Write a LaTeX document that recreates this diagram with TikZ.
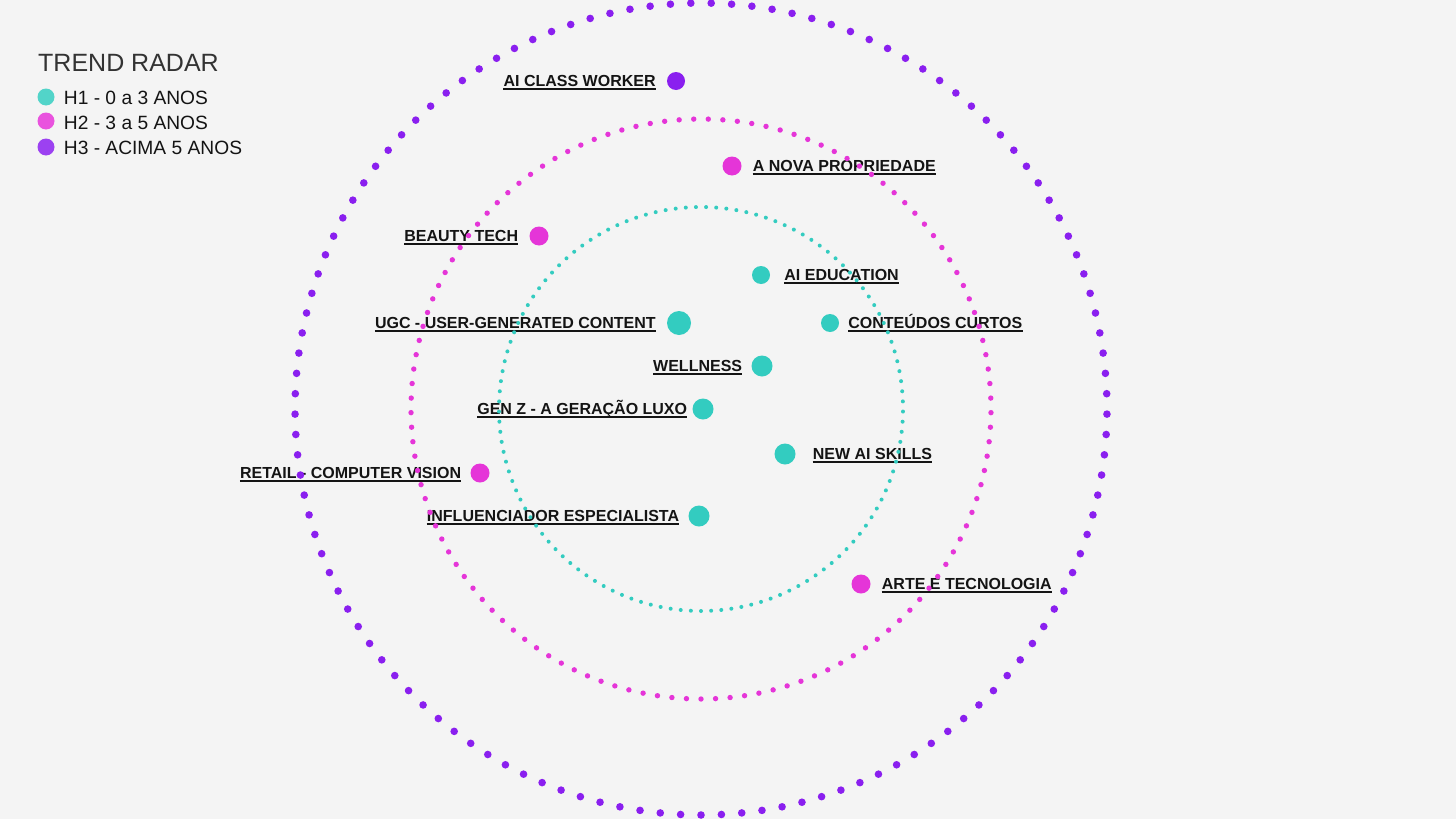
\documentclass[tikz,border=0pt]{standalone}
\usepackage{fontspec}
\setmainfont{Liberation Sans}
\usetikzlibrary{calc,positioning}

\definecolor{bgcol}{HTML}{F4F4F4}
\definecolor{hone}{HTML}{33CCC0}
\definecolor{htwo}{HTML}{E535D8}
\definecolor{hthree}{HTML}{8A1FEF}
\definecolor{txtcol}{HTML}{141414}

\tikzset{
  trend/.style={circle, inner sep=0pt, minimum size=#1},
  trend/.default=19pt,
  tlabel/.style={inner sep=0pt, text height=11.5pt, text depth=0pt,
                 font=\bfseries\fontsize{16}{16}\selectfont, text=txtcol},
  legdot/.style={circle, inner sep=0pt, minimum size=17pt},
  legtext/.style={anchor=west, inner sep=0pt, text height=13pt, text depth=0pt,
                  font=\fontsize{19.2}{19.2}\selectfont, text=txtcol}
}

\begin{document}
\begin{tikzpicture}[x=1pt,y=-1pt]
\fill[bgcol] (0,0) rectangle (1456,819);
\useasboundingbox (0,0) rectangle (1456,819);
\coordinate (C) at (701,409);

%legend
\node[anchor=base west, inner sep=0pt, font=\fontsize{25}{25}\selectfont, text=black!80] (title) at (38,71) {TREND RADAR};
\node[legdot, fill=hone!85]   (lg1) at (46,97)  {};
\node[legdot, fill=htwo!85]   (lg2) at (46,121) {};
\node[legdot, fill=hthree!85] (lg3) at (46,147) {};
\node[legtext, right=9pt of lg1, yshift=-0.5pt] (lt1) {H1 - 0 a 3 ANOS};
\node[legtext, right=9pt of lg2, yshift=-2pt]   (lt2) {H2 - 3 a 5 ANOS};
\node[legtext, right=9pt of lg3, yshift=-1pt]   (lt3) {H3 - ACIMA 5 ANOS};

%trend dots
\node[trend=18pt, fill=hthree] (aiclass) at (676,81)  {};
\node[trend, fill=htwo]        (nova)    at (732,166) {};
\node[trend, fill=htwo]        (beauty)  at (539,236) {};
\node[trend=18pt, fill=hone]   (aiedu)   at (761,275) {};
\node[trend=24pt, fill=hone]   (ugc)     at (679,323) {};
\node[trend=18pt, fill=hone]   (curtos)  at (830,323) {};
\node[trend=21pt, fill=hone]   (well)    at (762,366) {};
\node[trend=21pt, fill=hone]   (genz)    at (703,409) {};
\node[trend=21pt, fill=hone]   (skills)  at (785,454) {};
\node[trend, fill=htwo]        (retail)  at (480,473) {};
\node[trend=21pt, fill=hone]   (influ)   at (699,516) {};
\node[trend, fill=htwo]        (arte)    at (861,584) {};

%labels
\node[tlabel, left=11pt of aiclass]  (laiclass) {AI CLASS WORKER};
\node[tlabel, right=11pt of nova]    (lnova)    {A NOVA PROPRIEDADE};
\node[tlabel, left=11pt of beauty]   (lbeauty)  {BEAUTY TECH};
\node[tlabel, right=14pt of aiedu]   (laiedu)   {AI EDUCATION};
\node[tlabel, left=11pt of ugc]      (lugc)     {UGC - USER-GENERATED CONTENT};
\node[tlabel, right=9pt of curtos]   (lcurtos)  {CONTEÚDOS CURTOS};
\node[tlabel, left=9pt of well]      (lwell)    {WELLNESS};
\node[tlabel, left=5pt of genz]      (lgenz)    {GEN Z - A GERAÇÃO LUXO};
\node[tlabel, right=17pt of skills]  (lskills)  {NEW AI SKILLS};
\node[tlabel, left=9pt of retail]    (lretail)  {RETAIL - COMPUTER VISION};
\node[tlabel, left=9pt of influ]     (linflu)   {INFLUENCIADOR ESPECIALISTA};
\node[tlabel, right=11pt of arte]    (larte)    {ARTE E TECNOLOGIA};

%underlines
\foreach \l in {laiclass,lnova,lbeauty,laiedu,lugc,lcurtos,lwell,lgenz,lskills,lretail,linflu,larte}
  \draw[txtcol, line width=1.3pt] ([yshift=-2pt]\l.south west) -- ([yshift=-2pt]\l.south east);

%rings
\foreach \i in {0,...,124}{
  \fill[hone]   ($(C)+({90+\i*2.88}:202)$) circle (2pt);
  \fill[htwo]   ($(C)+({90+\i*2.88}:290)$) circle (2.7pt);
  \fill[hthree] ($(C)+({90+\i*2.88}:406)$) circle (3.8pt);
}

\end{tikzpicture}
\end{document}
